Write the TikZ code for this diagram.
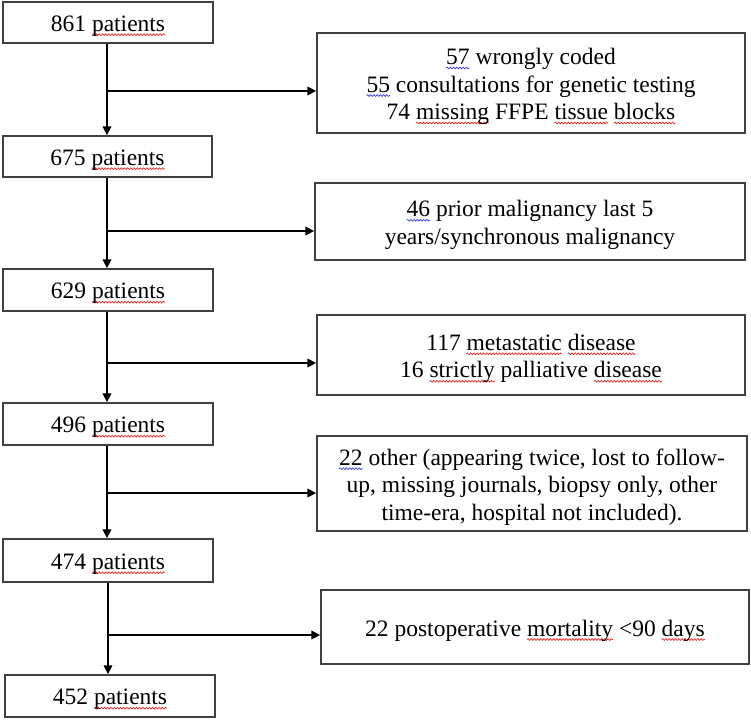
\documentclass[tikz,border=0pt]{standalone}
\usepackage{fontspec}
\setmainfont{Liberation Serif}
\usetikzlibrary{arrows.meta,decorations.pathmorphing}
\definecolor{spellred}{RGB}{230,40,40}
\definecolor{spellblue}{RGB}{60,60,225}
\newsavebox\wavebox
\newcommand\wavedword[2]{\sbox\wavebox{#2}\rlap{\tikz[overlay,baseline=0pt]\draw[draw=#1, line width=0.7pt, decorate, decoration={snake,amplitude=0.9pt,segment length=3.2pt}] (0pt,-3.4pt) -- (\wd\wavebox,-3.4pt);}\usebox\wavebox}
\newcommand\rw[1]{\wavedword{spellred}{#1}}
\newcommand\bw[1]{\wavedword{spellblue}{#1}}
\tikzset{
  box/.style={draw=black!75, line width=1.4pt, inner sep=0pt},
  txt/.style={inner sep=0pt, align=center, font=\fontsize{23.5}{27.5}\selectfont},
  arr/.style={draw=black, line width=2pt, -{Triangle[length=9pt,width=8.5pt]}}
}
\begin{document}
\begin{tikzpicture}[x=1pt,y=1pt]
\useasboundingbox (0,0) rectangle (751,-719);
% left column boxes
\node[box, minimum width=210, minimum height=41] (b861) at (108,-22.5) {};
\node[box, minimum width=209, minimum height=41] (b675) at (107.5,-156.5) {};
\node[box, minimum width=210, minimum height=42] (b629) at (108,-290) {};
\node[box, minimum width=210, minimum height=42] (b496) at (108,-424) {};
\node[box, minimum width=210, minimum height=43] (b474) at (108,-560.5) {};
\node[box, minimum width=210, minimum height=42] (b452) at (110,-696) {};
\node[txt] (t861) at ([yshift=-3.5]b861.center) {861 \rw{patients}};
\node[txt] (t675) at ([yshift=-3.5]b675.center) {675 \rw{patients}};
\node[txt] (t629) at ([yshift=-3.5]b629.center) {629 \rw{patients}};
\node[txt] (t496) at ([yshift=-3.5]b496.center) {496 \rw{patients}};
\node[txt] (t474) at ([yshift=-3.5]b474.center) {474 \rw{patients}};
\node[txt] (t452) at ([yshift=-3.5]b452.center) {452 \rw{patients}};
% right column boxes
\node[box, minimum width=428, minimum height=100] (r1) at (531,-83) {};
\node[box, minimum width=430, minimum height=77] (r2) at (530,-221.5) {};
\node[box, minimum width=428, minimum height=80] (r3) at (531,-355) {};
\node[box, minimum width=430, minimum height=95] (r4) at (532,-483.5) {};
\node[box, minimum width=428, minimum height=74] (r5) at (535,-627) {};
\node[txt] (s1) at ([yshift=-3.5]r1.center)
  {\bw{57} wrongly coded\\\bw{55} consultations for genetic testing\\74 \rw{missing} FFPE \rw{tissue} \rw{blocks}};
\node[txt] (s2) at ([yshift=-3.5]r2.center)
  {\bw{46} prior malignancy last 5\\years/synchronous malignancy};
\node[txt] (s3) at ([yshift=-3.5]r3.center)
  {117 \rw{metastatic} \rw{disease}\\16 \rw{strictly} palliative \rw{disease}};
\node[txt] (s4) at ([yshift=-3.5]r4.center)
  {\bw{22} other (appearing twice, lost to follow-\\up, missing journals, biopsy only, other\\time-era, hospital not included).};
\node[txt] (s5) at ([yshift=-3.5]r5.center)
  {22 postoperative \rw{mortality} <90 \rw{days}};
% junctions
\coordinate (j1) at (107,-91);
\coordinate (j2) at (107,-231);
\coordinate (j3) at (107,-363);
\coordinate (j4) at (107,-493);
\coordinate (j5) at (108,-635);
% vertical flow
\draw[arr] (b861.south -| j1) -- (b675.north -| j1);
\draw[arr] (b675.south -| j2) -- (b629.north -| j2);
\draw[arr] (b629.south -| j3) -- (b496.north -| j3);
\draw[arr] (b496.south -| j4) -- (b474.north -| j4);
\draw[arr] (b474.south -| j5) -- (b452.north -| j5);
% branches
\draw[arr] (j1) -- (j1 -| r1.west);
\draw[arr] (j2) -- (j2 -| r2.west);
\draw[arr] (j3) -- (j3 -| r3.west);
\draw[arr] (j4) -- (j4 -| r4.west);
\draw[arr] (j5) -- (j5 -| r5.west);
\end{tikzpicture}
\end{document}
